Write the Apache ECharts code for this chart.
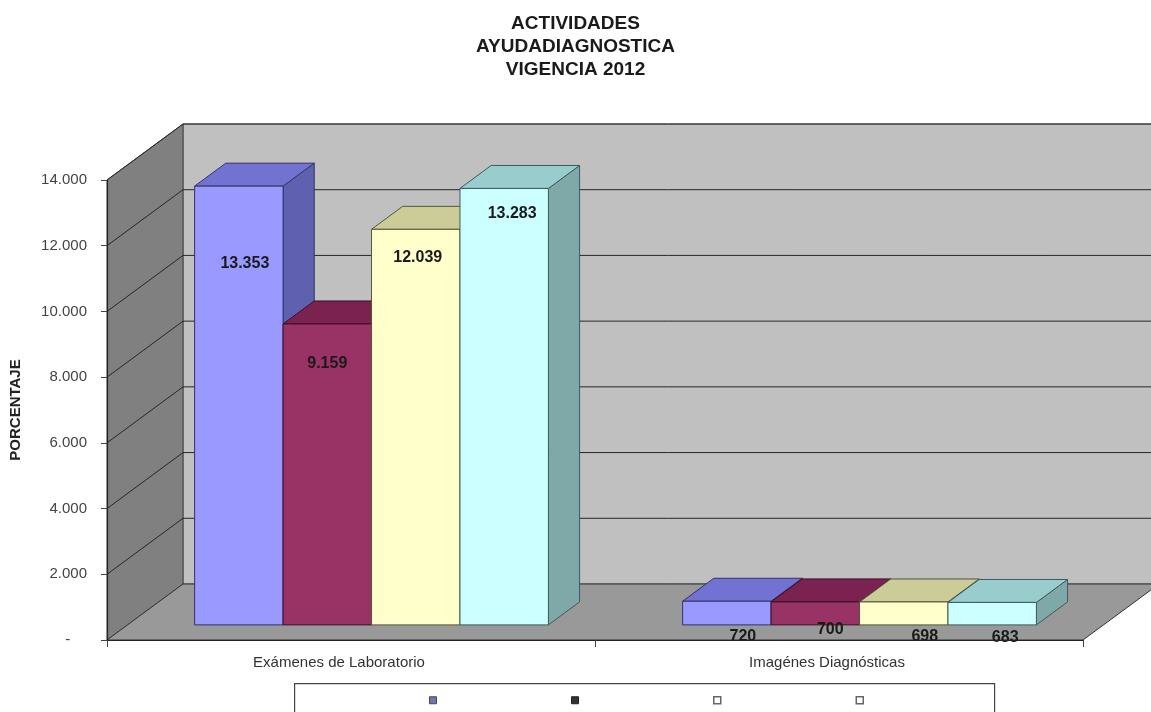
<!DOCTYPE html>
<html lang="es">
<head>
    <meta charset="UTF-8">
    <title>Actividades Ayuda Diagnostica</title>
    <script type="text/javascript" src="https://cdn.jsdelivr.net/npm/echarts@6/dist/echarts.min.js"></script>
    <style>
        html, body { margin: 0; padding: 0; background: #fff; }
        #chart { width: 1151px; height: 712px; }
    </style>
</head>
<body>
<div id="chart"></div>
<script>
    // datos
    var categorias = ['Exámenes de Laboratorio', 'Imagénes Diagnósticas'];
    var serie1 = [13353, 720];
    var serie2 = [9159, 700];
    var serie3 = [12039, 698];
    var serie4 = [13283, 683];
    var nombres = ['Serie 1', 'Serie 2', 'Serie 3', 'Serie 4'];
    var yTicks = [0, 2000, 4000, 6000, 8000, 10000, 12000, 14000];

    // proyeccion "3D" tipo Excel
    var DX = 76, DY = -56;
    var FRONT = 0.27, DEPTH = 0.41, GROUP = 0.725;
    var colores = [
        {front: '#9999FF', top: '#7272D2', side: '#6060B0', line: '#33336a'},
        {front: '#993366', top: '#7c2250', side: '#6a1c44', line: '#3a1028'},
        {front: '#FFFFCC', top: '#CCCC99', side: '#b0b088', line: '#55553a'},
        {front: '#CCFFFF', top: '#99CCCC', side: '#7fa9a9', line: '#3d5a5a'}
    ];
    // desplazamiento de las etiquetas (px) respecto al centro superior de la cara frontal
    var etiquetaPos = [
        [[6, 77], [16, 35]],
        [[0, 40], [15, 28]],
        [[2, 28], [21, 35]],
        [[8, 25], [13, 35]]
    ];

    function fmt(v) {
        return String(v).replace(/\B(?=(\d{3})+(?!\d))/g, '.');
    }

    function paredes(params, api) {
        var cs = params.coordSys;
        var x0 = cs.x, x1 = cs.x + cs.width;
        var yb = api.coord([0, 0])[1];
        var yt = api.coord([0, yTicks[yTicks.length - 1]])[1];
        return {
            type: 'group',
            children: [
                {   // pared del fondo
                    type: 'polygon',
                    shape: {points: [[x0 + DX, yt + DY], [x1 + DX, yt + DY], [x1 + DX, yb + DY], [x0 + DX, yb + DY]]},
                    style: {fill: '#c0c0c0', stroke: '#555', lineWidth: 1}
                },
                {   // pared lateral
                    type: 'polygon',
                    shape: {points: [[x0, yb], [x0, yt], [x0 + DX, yt + DY], [x0 + DX, yb + DY]]},
                    style: {fill: '#808080', stroke: '#444', lineWidth: 1}
                },
                {   // piso
                    type: 'polygon',
                    shape: {points: [[x0, yb], [x1, yb], [x1 + DX, yb + DY], [x0 + DX, yb + DY]]},
                    style: {fill: '#999999', stroke: '#333', lineWidth: 1}
                }
            ]
        };
    }

    function rejilla(params, api) {
        var cs = params.coordSys;
        var x0 = cs.x, x1 = cs.x + cs.width;
        var y = api.coord([0, api.value(1)])[1];
        return {
            type: 'polyline',
            shape: {points: [[x0, y], [x0 + DX, y + DY], [x1 + DX, y + DY]]},
            style: {stroke: '#262626', lineWidth: 1, fill: null}
        };
    }

    function barra(k) {
        return function (params, api) {
            var c = api.value(0), v = api.value(1);
            var band = api.size([1, 0])[0];
            var gw = band * GROUP, bw = gw / 4;
            var base = api.coord([c, 0]);
            var xL = base[0] - gw / 2 + k * bw + DX * FRONT;
            var yB = base[1] + DY * FRONT;
            var yT = api.coord([c, v])[1] + DY * FRONT;
            var ddx = DX * DEPTH, ddy = DY * DEPTH;
            var col = colores[k];
            var off = etiquetaPos[k][c];
            return {
                type: 'group',
                children: [
                    {
                        type: 'polygon',
                        shape: {points: [[xL + bw, yT], [xL + bw, yB], [xL + bw + ddx, yB + ddy], [xL + bw + ddx, yT + ddy]]},
                        style: {fill: col.side, stroke: col.line, lineWidth: 1}
                    },
                    {
                        type: 'polygon',
                        shape: {points: [[xL, yT], [xL + bw, yT], [xL + bw + ddx, yT + ddy], [xL + ddx, yT + ddy]]},
                        style: {fill: col.top, stroke: col.line, lineWidth: 1}
                    },
                    {
                        type: 'rect',
                        shape: {x: xL, y: yT, width: bw, height: yB - yT},
                        style: {fill: col.front, stroke: col.line, lineWidth: 1}
                    },
                    {
                        type: 'text',
                        z2: 10,
                        style: {
                            x: xL + bw / 2 + off[0], y: yT + off[1],
                            text: fmt(v), align: 'center', verticalAlign: 'middle',
                            fill: '#1a1a1a', font: 'bold 16px "Liberation Sans", Arial, sans-serif'
                        }
                    }
                ]
            };
        };
    }

    var valores = [serie1, serie2, serie3, serie4];
    var series = [
        {type: 'custom', name: 'paredes', silent: true, z: 0, renderItem: paredes, data: [[0, 0]]},
        {type: 'custom', name: 'rejilla', silent: true, z: 1,
            renderItem: rejilla, data: yTicks.slice(1).map(function (v) { return [0, v]; })}
    ];
    valores.forEach(function (arr, k) {
        series.push({
            type: 'custom', name: nombres[k], z: 2 + k,
            itemStyle: {color: colores[k].front},
            renderItem: barra(k),
            data: arr.map(function (v, i) { return [i, v]; })
        });
    });

    var option = {
        animation: false,
        textStyle: {fontFamily: '"Liberation Sans", Arial, sans-serif'},
        title: {
            text: 'ACTIVIDADES\nAYUDADIAGNOSTICA\nVIGENCIA 2012',
            left: 'center', top: 7,
            textStyle: {fontSize: 19, fontWeight: 'bold', color: '#1a1a1a', lineHeight: 23, align: 'center'}
        },
        legend: {
            data: [
                {name: nombres[0], itemStyle: {color: '#7474aa', borderColor: '#444466', borderWidth: 1}},
                {name: nombres[1], itemStyle: {color: '#333333', borderColor: '#222', borderWidth: 1}},
                {name: nombres[2], itemStyle: {color: '#ffffff', borderColor: '#666', borderWidth: 1.5}},
                {name: nombres[3], itemStyle: {color: '#ffffff', borderColor: '#666', borderWidth: 1.5}}
            ],
            formatter: function () { return ''; },
            icon: 'rect', itemWidth: 7, itemHeight: 7, itemGap: 134,
            left: 429, top: 696, padding: 0, selectedMode: false
        },
        graphic: [{
            type: 'rect', left: 294, top: 683, z: -1,
            shape: {width: 700, height: 40},
            style: {fill: '#fff', stroke: '#444', lineWidth: 1.2}
        }],
        grid: {left: 104, right: 68, top: 180, bottom: 72},
        xAxis: {
            type: 'category', data: categorias, z: 10,
            axisLine: {lineStyle: {color: '#222', width: 1.2}},
            axisTick: {show: true, length: 7, lineStyle: {color: '#444'}},
            axisLabel: {color: '#333', fontSize: 15, margin: 15, padding: [0, 24, 0, 0]}
        },
        yAxis: {
            type: 'value', min: 0, max: 14000, interval: 2000, z: 10,
            name: 'PORCENTAJE', nameLocation: 'middle', nameGap: 84, nameRotate: 90,
            nameTextStyle: {fontSize: 15, fontWeight: 'bold', color: '#222'},
            axisLine: {show: true, lineStyle: {color: '#222', width: 1.2}},
            axisTick: {show: true, length: 6, lineStyle: {color: '#444'}},
            splitLine: {show: false},
            axisLabel: {
                color: '#444', fontSize: 15, margin: 20,
                formatter: function (v) { return v === 0 ? '-    ' : fmt(v); }
            }
        },
        series: series
    };

    var myChart = echarts.init(document.getElementById('chart'));
    myChart.setOption(option);
</script>
</body>
</html>
